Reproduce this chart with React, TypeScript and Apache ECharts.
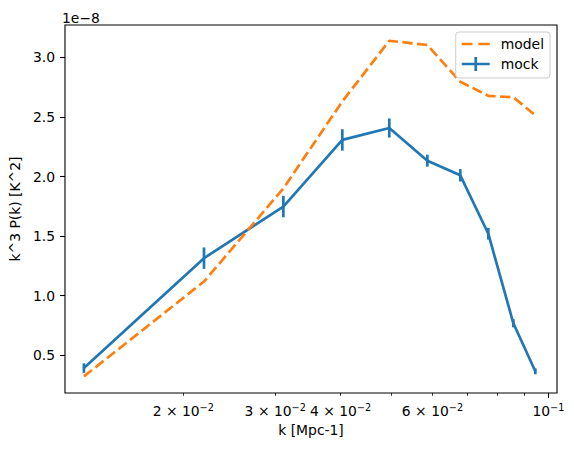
import React, { useEffect, useRef } from "react";
import * as echarts from "echarts";

// k values [Mpc^-1]
const kValues = [0.01307, 0.02212, 0.03132, 0.04055, 0.04982, 0.05886, 0.068, 0.07688, 0.0858, 0.09446];
// values in units of 1e-8 K^2
const mockValues = [0.393, 1.315, 1.748, 2.307, 2.407, 2.133, 2.01, 1.52, 0.769, 0.366];
const mockErrors = [0.04, 0.09, 0.09, 0.09, 0.08, 0.05, 0.052, 0.049, 0.034, 0.025];
const modelValues = [0.323, 1.119, 1.9, 2.63, 3.139, 3.103, 2.795, 2.677, 2.665, 2.514];

const yTickValues = [0.5, 1.0, 1.5, 2.0, 2.5, 3.0];
const xMinorTicks = [0.02, 0.03, 0.04, 0.05, 0.06, 0.07, 0.08, 0.09];
const xMajorTicks = [0.1];
const xLabelTicks = [0.02, 0.03, 0.04, 0.06, 0.1];
const xLabelMantissa = ["2", "3", "4", "6", ""];
const xLabelExponent = ["−2", "−2", "−2", "−2", "−1"];
const yScaleText = "1e−8";

const yMin = 0.184;
const yMax = 3.271;

// layout of the log axis: pixels per decade and pixel of k = 0.02
const PX_PER_DECADE = 525.5;
const ANCHOR_K = 0.02;
const ANCHOR_PX = 181;
const FRAME_LEFT = 62;
const FRAME_RIGHT = 557;
const W = 574;
const H = 452;

const FONT = "DejaVu Sans";
const FS = 13.9;
const BLUE = "#1f77b4";
const ORANGE = "#ff7f0e";

export default function App() {
  const ref = useRef<HTMLDivElement>(null);
  useEffect(() => {
    if (!ref.current) return;
    const chart = echarts.init(ref.current, null, { renderer: "svg" });
    const pxOf = (lk: number) => ANCHOR_PX + PX_PER_DECADE * (lk - Math.log10(ANCHOR_K));
    // data grid spans the whole decade 0.01 .. 0.1 so the log scale is exact
    const dataLeft = pxOf(-2);
    const dataRight = pxOf(-1);
    // frame grid spans the visible plot area
    const lmin = Math.log10(ANCHOR_K) + (FRAME_LEFT - ANCHOR_PX) / PX_PER_DECADE;
    const lmax = Math.log10(ANCHOR_K) + (FRAME_RIGHT - ANCHOR_PX) / PX_PER_DECADE;
    const xLabelFormatter = (v: number) => {
      const i = xLabelTicks.findIndex((t) => Math.abs(Math.log10(t) - v) < 1e-6);
      if (i < 0) return "";
      const m = xLabelMantissa[i];
      return m ? `{m|${m} × 10}{s|${xLabelExponent[i]}}` : `{m|10}{s|${xLabelExponent[i]}}`;
    };
    chart.setOption({
      animation: false,
      textStyle: { fontFamily: FONT },
      grid: [
        {
          left: dataLeft,
          right: W - dataRight,
          top: 25,
          bottom: 59,
          show: false,
        },
        {
          left: FRAME_LEFT,
          right: W - FRAME_RIGHT,
          top: 25,
          bottom: 59,
          show: true,
          borderColor: "#000",
          borderWidth: 1.1,
          backgroundColor: "transparent",
        },
      ],
      legend: {
        orient: "vertical",
        right: 24,
        top: 32,
        itemWidth: 28,
        itemHeight: 14,
        itemGap: 6,
        padding: [5, 6, 7, 6],
        backgroundColor: "#fff",
        borderColor: "#cccccc",
        borderWidth: 1,
        borderRadius: 3,
        selectedMode: false,
        textStyle: { fontFamily: FONT, fontSize: FS, color: "#000", padding: [0, 0, 0, 6] },
        data: [
          {
            name: "model",
            icon: "path://M0,5.65L10.6,5.65L10.6,8.35L0,8.35Z M16.6,5.65L28,5.65L28,8.35L16.6,8.35Z",
            itemStyle: { color: ORANGE, borderWidth: 0 },
          },
          {
            name: "mock",
            icon: "path://M0,5.65L28,5.65L28,8.35L0,8.35Z M12.65,0L15.35,0L15.35,14L12.65,14Z",
            itemStyle: { color: BLUE, borderWidth: 0 },
          },
        ],
      },
      graphic: [
        {
          type: "text",
          x: 62,
          y: 17.5,
          style: {
            text: yScaleText,
            font: `${FS}px ${FONT}`,
            fill: "#000",
            verticalAlign: "middle",
            align: "left",
          },
        },
      ],
      xAxis: [
        {
          gridIndex: 0,
          type: "log",
          logBase: 10,
          min: 0.01,
          max: 0.1,
          show: false,
          splitLine: { show: false },
        },
        {
          gridIndex: 1,
          type: "value",
          min: lmin,
          max: lmax,
          position: "bottom",
          axisLine: { show: false },
          splitLine: { show: false },
          axisTick: {
            show: true,
            customValues: xMinorTicks.map((t) => Math.log10(t)),
            length: 2.8,
            lineStyle: { color: "#000", width: 0.8 },
          },
          axisLabel: {
            show: true,
            customValues: xLabelTicks.map((t) => Math.log10(t)),
            formatter: xLabelFormatter,
            margin: 9,
            color: "#000",
            rich: {
              m: { fontFamily: FONT, fontSize: FS, color: "#000", lineHeight: 18 },
              s: { fontFamily: FONT, fontSize: 9.7, color: "#000", lineHeight: 10, verticalAlign: "top" },
            },
          },
          name: "k [Mpc-1]",
          nameLocation: "middle",
          nameGap: 28,
          nameTextStyle: { fontFamily: FONT, fontSize: FS, color: "#000" },
        },
        {
          gridIndex: 1,
          type: "value",
          min: lmin,
          max: lmax,
          position: "bottom",
          axisLine: { show: false },
          splitLine: { show: false },
          axisTick: {
            show: true,
            customValues: xMajorTicks.map((t) => Math.log10(t)),
            length: 4.9,
            lineStyle: { color: "#000", width: 1.1 },
          },
          axisLabel: { show: false },
        },
      ],
      yAxis: [
        {
          gridIndex: 0,
          type: "value",
          min: yMin,
          max: yMax,
          show: false,
          splitLine: { show: false },
        },
        {
          gridIndex: 1,
          type: "value",
          min: yMin,
          max: yMax,
          axisLine: { show: false },
          splitLine: { show: false },
          axisTick: {
            show: true,
            customValues: yTickValues,
            length: 4.9,
            lineStyle: { color: "#000", width: 1.1 },
          },
          axisLabel: {
            customValues: yTickValues,
            formatter: (v: number) => v.toFixed(1),
            margin: 10,
            color: "#000",
            fontFamily: FONT,
            fontSize: FS,
          },
          name: "k^3 P(k) [K^2]",
          nameLocation: "middle",
          nameGap: 40,
          nameRotate: 90,
          nameTextStyle: { fontFamily: FONT, fontSize: FS, color: "#000" },
        },
      ],
      series: [
        {
          name: "mock",
          type: "line",
          xAxisIndex: 0,
          yAxisIndex: 0,
          data: kValues.map((k, i) => [k, mockValues[i]]),
          symbol: "none",
          color: BLUE,
          itemStyle: { color: BLUE },
          lineStyle: { color: BLUE, width: 2.7 },
          z: 2,
        },
        {
          name: "mock_err",
          type: "custom",
          xAxisIndex: 0,
          yAxisIndex: 0,
          data: kValues.map((k, i) => [k, mockValues[i] - mockErrors[i], mockValues[i] + mockErrors[i]]),
          encode: { x: 0, y: [1, 2] },
          renderItem: (params: any, api: any) => {
            const x = api.value(0);
            const p1 = api.coord([x, api.value(1)]);
            const p2 = api.coord([x, api.value(2)]);
            return {
              type: "line",
              shape: { x1: p1[0], y1: p1[1], x2: p2[0], y2: p2[1] },
              style: { stroke: BLUE, lineWidth: 2.7 },
            };
          },
          z: 2,
        },
        {
          name: "model",
          type: "line",
          xAxisIndex: 0,
          yAxisIndex: 0,
          data: kValues.map((k, i) => [k, modelValues[i]]),
          symbol: "none",
          color: ORANGE,
          itemStyle: { color: ORANGE },
          lineStyle: { color: ORANGE, width: 2.7, type: [10.3, 4.4] },
          z: 3,
        },
      ],
    });
    return () => chart.dispose();
  }, []);
  return (
    <div
      ref={ref}
      style={{ position: "absolute", left: 0, top: 0, width: W, height: H, background: "#fff" }}
    />
  );
}
